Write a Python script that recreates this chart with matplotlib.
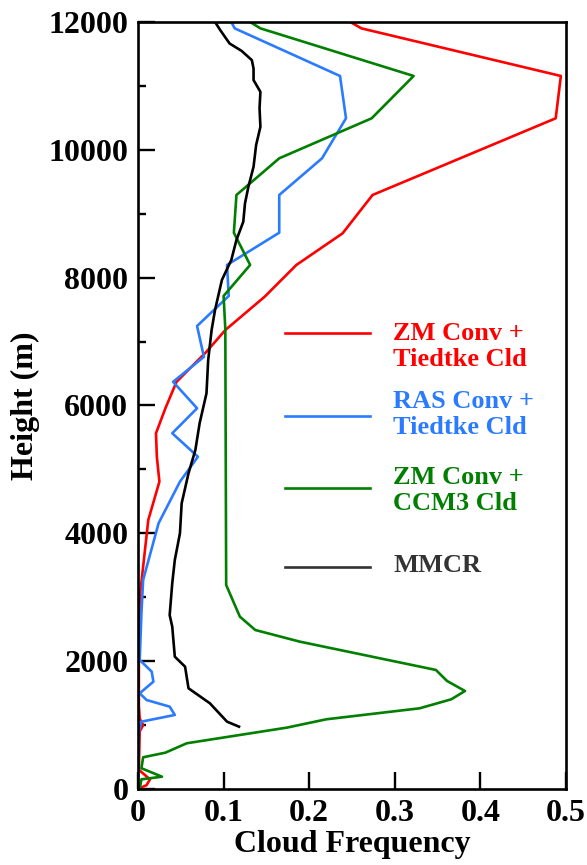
import matplotlib
matplotlib.use('Agg')
from matplotlib import pyplot as plt

plt.rcParams['font.family'] = ['Liberation Serif', 'DejaVu Serif']
plt.rcParams['font.weight'] = 'bold'

# ZM Conv + Tiedtke Cld
zm_tied_h = [12000, 11900, 11155, 10493, 9293, 8693, 8198, 7702, 7180, 6841,
             6370, 5956, 5565, 5200, 4808, 4208, 3478, 3000, 2000, 1300,
             1100, 1000, 900, 300, 150, 60, 0]
zm_tied_v = [0.248, 0.261, 0.494, 0.488, 0.274, 0.239, 0.185, 0.148, 0.102, 0.080,
             0.045, 0.032, 0.021, 0.022, 0.025, 0.012, 0.006, 0.002, 0.001, 0.001,
             0.002, 0.006, 0.002, 0.001, 0.014, 0.010, 0.0]

# RAS Conv + Tiedtke Cld
ras_tied_h = [12000, 11900, 11155, 10493, 9867, 9293, 8703, 8198, 7713, 7243,
              6761, 6370, 5956, 5565, 5198, 4808, 4156, 3270, 2750, 2018,
              1835, 1679, 1497, 1392, 1288, 1158, 1053, 900, 0]
ras_tied_v = [0.109, 0.113, 0.236, 0.243, 0.215, 0.165, 0.165, 0.104, 0.106, 0.069,
              0.077, 0.041, 0.069, 0.040, 0.070, 0.049, 0.024, 0.006, 0.004, 0.002,
              0.016, 0.018, 0.002, 0.010, 0.037, 0.043, 0.004, 0.001, 0.0]

# ZM Conv + CCM3 Cld
zm_ccm3_h = [12000, 11900, 11155, 10493, 9867, 9293, 8703, 8198, 7713, 7200,
             3191, 2696, 2487, 2305, 1862, 1690, 1533, 1403, 1262, 1090,
             960, 715, 568, 496, 324, 192, 151, 0]
zm_ccm3_v = [0.131, 0.143, 0.322, 0.273, 0.165, 0.115, 0.112, 0.131, 0.100, 0.102,
             0.103, 0.119, 0.137, 0.189, 0.348, 0.361, 0.382, 0.366, 0.329, 0.220,
             0.174, 0.057, 0.032, 0.006, 0.004, 0.028, 0.004, 0.002]

# MMCR observations
mmcr_h = [12000, 11874, 11663, 11548, 11403, 11270, 11090, 10907, 10650, 10360,
          10075, 9736, 9423, 9163, 8875, 8589, 8276, 7963, 7494, 7181,
          6712, 6190, 5722, 5303, 4939, 4469, 4000, 3583, 3218, 2720,
          2540, 2070, 1913, 1575, 1340, 1053, 975]
mmcr_v = [0.090, 0.096, 0.107, 0.121, 0.133, 0.135, 0.135, 0.143, 0.142, 0.143,
          0.138, 0.135, 0.129, 0.125, 0.123, 0.115, 0.109, 0.098, 0.090, 0.086,
          0.082, 0.080, 0.072, 0.067, 0.059, 0.051, 0.049, 0.043, 0.040, 0.037,
          0.040, 0.043, 0.055, 0.059, 0.084, 0.104, 0.118]

series = [
    (zm_tied_v, zm_tied_h, '#ff0000', '#ff0000', 'ZM Conv +\nTiedtke Cld'),
    (ras_tied_v, ras_tied_h, '#2b7bff', '#2b7bff', 'RAS Conv +\nTiedtke Cld'),
    (zm_ccm3_v, zm_ccm3_h, '#007f00', '#007f00', 'ZM Conv +\nCCM3 Cld'),
    (mmcr_v, mmcr_h, '#000000', '#333333', 'MMCR'),
]

fig = plt.figure(figsize=(5.87, 8.65), dpi=100)
ax = fig.add_axes([0.2351, 0.0879, 0.7291, 0.8867])

for v, h, c, lc, lab in series:
    ax.plot(v, h, color=c, lw=1.9)

ax.set_xlim(0, 0.5)
ax.set_ylim(0, 12000)
ax.set_xticks([0, 0.1, 0.2, 0.3, 0.4, 0.5])
ax.set_xticklabels(['0', '0.1', '0.2', '0.3', '0.4', '0.5'])
ax.set_yticks(range(0, 12001, 2000))
ax.set_yticks(range(1000, 12000, 2000), minor=True)

for s in ax.spines.values():
    s.set_linewidth(1.9)
ax.tick_params(axis='both', which='major', direction='in', length=12, width=1.7,
               labelsize=23, pad=7)
ax.tick_params(axis='y', which='minor', direction='in', length=6, width=1.7)
ax.tick_params(top=False, right=False)

ax.set_xlabel('Cloud Frequency', fontsize=23, fontweight='bold', labelpad=2)
ax.set_ylabel('Height (m)', fontsize=23, fontweight='bold', labelpad=6)

# hand-made legend
line_y = [0.594, 0.486, 0.392, 0.290]
text_y = [0.577, 0.488, 0.389, 0.291]
for (v, h, c, lc, lab), ly, ty in zip(series, line_y, text_y):
    ax.plot([0.343, 0.542], [ly, ly], color=lc, lw=1.9, transform=ax.transAxes)
    ax.text(0.596, ty, lab, color=lc, fontsize=19, fontweight='bold',
            va='center', ha='left', linespacing=1.2, transform=ax.transAxes)

plt.savefig('out.png', dpi=100)
